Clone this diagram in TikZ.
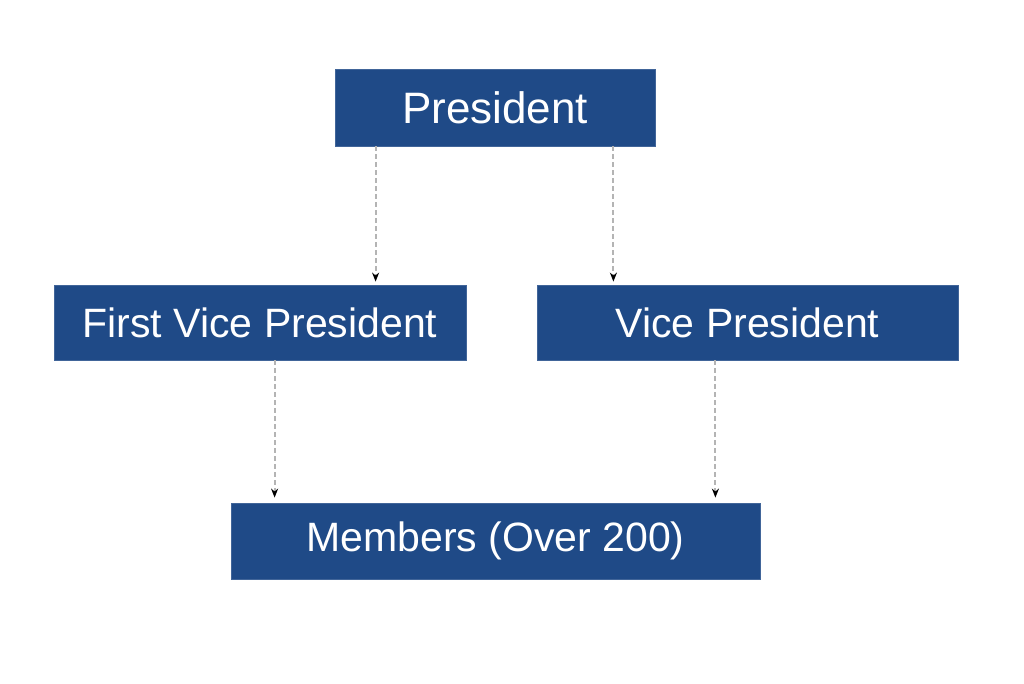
\documentclass[tikz,border=0pt]{standalone}
\usepackage{fontspec}
\setmainfont{Liberation Sans}
\usetikzlibrary{arrows.meta,calc}
\definecolor{boxblue}{HTML}{1F4A87}
\definecolor{linkgray}{HTML}{B4B4B4}
\tikzstyle{post}=[rectangle,fill=boxblue,draw=boxblue!85!white,line width=0.8pt,text=white,inner sep=0pt]
\tikzstyle{link} = [draw,linkgray,line width=2pt,dash pattern=on 5pt off 3pt,-{Stealth[length=9pt,width=7pt,black]}]

\begin{document}
\begin{tikzpicture}[x=1pt,y=-1pt]
    \useasboundingbox (0,0) rectangle (1024,683);

    \foreach \pos/ \name/ \w/ \h/ \fs/ \txt in {{(495,107.5)/pres/320/77/44/{President}},
        {(260,322.5)/fvp/412/75/41/{First Vice President}},
        {(747.5,322.5)/vp/421/75/41/{Vice President}},
        {(495.5,541)/mem/529/76/41/{Members (Over 200)}}}
        \node[post,minimum width=\w pt,minimum height=\h pt,font=\fontsize{\fs}{\fs}\selectfont] (\name) at \pos {\txt};

    % Anchor points of the dashed links
    \coordinate (a1) at ([xshift=41pt]pres.south west);
    \coordinate (a2) at ([xshift=-42pt]pres.south east);
    \coordinate (b1) at ([xshift=44pt]mem.north west);
    \coordinate (b2) at ([xshift=-45pt]mem.north east);

    % Connect posts with dashed links
    \foreach \source/ \dest in {a1/fvp,a2/vp}
        \path[link] (\source) -- ([yshift=3pt]\source |- \dest.north);
    \foreach \source/ \dest in {b1/fvp,b2/vp}
        \path[link] (\source |- \dest.south) -- ([yshift=5pt]\source);
\end{tikzpicture}
\end{document}
